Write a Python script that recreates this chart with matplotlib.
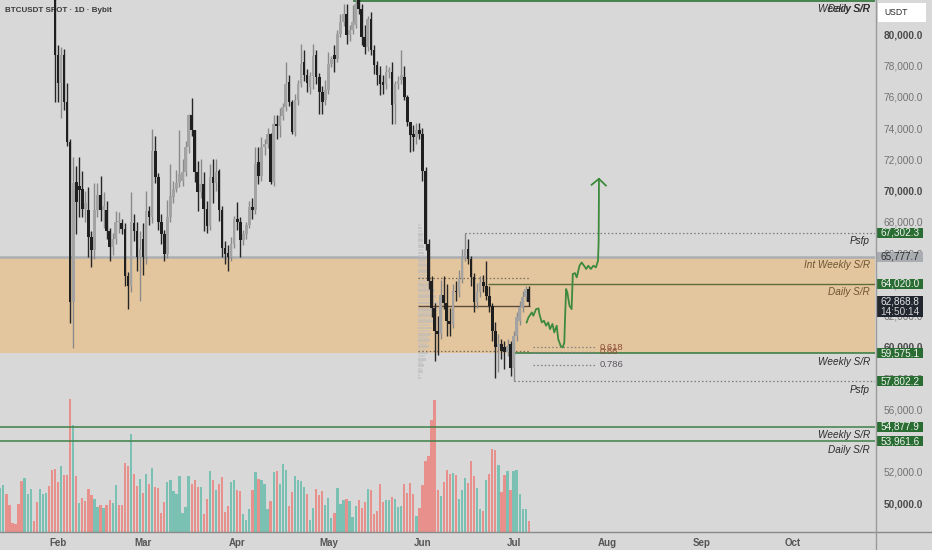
import numpy as np
import matplotlib
matplotlib.use("Agg")
import matplotlib.pyplot as plt
from matplotlib import transforms
from matplotlib.patches import Rectangle
from matplotlib.lines import Line2D

plt.rcParams['font.family'] = ['Liberation Sans', 'DejaVu Sans']

# x axis = days counted from 1 Feb
month_days = [0, 28, 59, 89, 120, 150, 181, 212, 242]
month_names = ["Feb", "Mar", "Apr", "May", "Jun", "Jul", "Aug", "Sep", "Oct"]

# daily candles (thousand USDT), first one is day -1
first_day = -1
opens = [82.90, 78.65, 76.88, 78.65, 75.66, 73.10, 62.84, 70.53, 70.26, 70.11, 68.83,
         68.78, 67.01, 66.22, 68.78, 69.74, 68.78, 68.78, 67.44, 66.37, 66.90,
         67.97, 67.90, 67.55, 64.55, 63.91, 67.90, 67.44, 65.72, 66.90, 65.72,
         68.72, 68.29, 72.56, 70.85, 67.97, 67.22, 65.94, 68.29, 69.57, 70.11,
         70.47, 70.60, 71.17, 72.78, 74.81, 73.85, 71.17, 69.89, 70.43, 68.83,
         67.76, 70.85, 70.47, 71.24, 68.76, 66.33, 66.00, 65.75, 66.60, 68.19,
         67.97, 66.84, 67.22, 67.82, 68.97, 68.76, 71.81, 70.96, 72.78, 72.99,
         73.60, 70.53, 74.28, 74.10, 74.74, 75.34, 76.94, 75.66, 73.74, 75.77,
         76.84, 78.22, 77.37, 76.60, 77.30, 78.65, 77.26, 76.30, 75.77, 76.41,
         78.12, 78.65, 78.44, 80.04, 80.79, 81.33, 79.94, 80.26, 80.58, 82.40,
         81.65, 79.83, 79.19, 81.00, 79.02, 78.01, 77.37, 76.94, 76.84, 77.58,
         77.58, 75.56, 76.84, 77.05, 77.26, 75.98, 74.38, 73.63, 73.42, 73.85,
         73.63, 71.28, 66.58, 64.23, 62.50, 61.03, 60.80, 63.30, 62.80, 61.67,
         61.47, 63.59, 63.48, 64.34, 65.72, 66.26, 65.62, 64.44, 62.84, 63.48,
         64.12, 63.91, 63.27, 62.63, 61.03, 59.96, 60.17, 59.96, 59.64, 60.17,
         58.67, 60.71, 61.67, 62.52, 63.16, 63.70]
highs = [83.40, 79.29, 79.19, 79.08, 76.88, 73.30, 72.12, 71.60, 72.13, 71.28, 70.00,
         70.21, 67.40, 70.51, 70.51, 70.90, 69.90, 69.30, 67.60, 67.30, 68.72,
         68.60, 68.20, 67.90, 64.80, 69.89, 68.50, 68.00, 67.44, 67.90, 70.00,
         69.00, 73.96, 73.46, 71.10, 68.50, 67.50, 69.40, 71.73, 70.60, 71.30,
         73.85, 72.00, 73.20, 74.90, 75.94, 73.90, 71.90, 72.00, 71.20, 69.30,
         71.71, 72.00, 72.00, 71.40, 69.00, 66.80, 66.50, 67.00, 68.40, 69.25,
         68.30, 67.50, 68.00, 69.36, 69.50, 72.78, 72.78, 73.42, 73.30, 74.00,
         73.70, 74.81, 74.81, 75.30, 75.60, 78.22, 77.37, 75.80, 76.20, 77.10,
         79.40, 78.97, 77.80, 77.60, 79.40, 79.00, 77.50, 76.70, 77.05, 78.87,
         78.60, 79.29, 80.30, 81.33, 81.97, 81.97, 80.60, 81.90, 82.50, 82.90,
         81.97, 80.60, 81.20, 81.40, 79.30, 78.30, 78.00, 77.40, 78.01, 77.90,
         78.20, 77.00, 77.30, 79.00, 78.00, 76.10, 74.40, 74.20, 74.30, 74.30,
         74.00, 71.50, 66.90, 64.50, 62.80, 62.00, 64.30, 64.50, 64.00, 62.50,
         64.00, 64.20, 64.90, 66.26, 67.302, 66.90, 65.80, 64.70, 64.10, 64.55,
         64.60, 65.51, 63.90, 62.80, 61.60, 60.80, 60.50, 60.40, 60.50, 60.40,
         61.00, 62.20, 62.90, 63.60, 63.91, 63.91]
lows = [75.66, 75.66, 74.62, 75.13, 72.88, 61.50, 59.94, 67.24, 68.29, 68.30, 68.00,
        65.73, 65.08, 65.64, 68.30, 68.08, 67.60, 66.90, 65.51, 65.90, 66.60,
        67.30, 67.20, 63.91, 62.44, 63.50, 66.80, 64.87, 62.95, 64.60, 65.30,
        67.80, 67.90, 70.50, 67.50, 66.60, 65.51, 65.70, 68.00, 69.20, 69.90,
        70.20, 70.30, 70.90, 72.40, 73.50, 70.53, 68.72, 69.50, 67.44, 67.30,
        67.50, 69.20, 70.00, 68.08, 65.72, 65.30, 64.87, 65.50, 66.30, 67.50,
        65.72, 66.50, 66.90, 67.60, 68.20, 68.50, 70.43, 70.60, 72.30, 72.70,
        70.43, 70.30, 73.30, 73.40, 74.50, 75.10, 75.40, 73.63, 73.50, 75.50,
        76.60, 77.00, 76.30, 76.20, 76.50, 76.80, 74.92, 74.92, 75.50, 76.20,
        77.90, 77.58, 78.20, 79.80, 80.50, 79.40, 79.60, 80.00, 80.40, 81.30,
        79.29, 78.76, 78.90, 78.65, 77.48, 76.73, 76.09, 76.20, 76.50, 77.20,
        74.28, 74.28, 76.50, 76.80, 75.80, 74.10, 72.46, 72.56, 73.00, 73.30,
        70.64, 66.20, 63.70, 61.90, 59.10, 59.50, 60.50, 62.40, 60.71, 60.71,
        61.20, 62.90, 63.20, 64.10, 65.50, 65.30, 63.90, 62.20, 62.50, 63.20,
        63.50, 63.00, 62.20, 60.38, 58.03, 58.40, 59.20, 58.60, 59.40, 58.14,
        57.802, 60.40, 61.40, 62.20, 62.90, 62.60]
closes = [78.65, 76.88, 78.65, 75.66, 73.10, 62.84, 70.51, 69.25, 70.05, 68.83, 69.20,
          67.01, 66.20, 68.78, 69.74, 68.78, 69.00, 67.44, 66.37, 66.90, 67.97,
          68.05, 67.55, 64.55, 63.91, 67.97, 67.44, 65.72, 66.28, 65.72, 68.72,
          68.29, 72.56, 70.85, 67.97, 67.22, 65.94, 68.29, 69.68, 70.11, 70.47,
          71.07, 71.20, 72.78, 74.81, 73.85, 71.17, 69.89, 70.43, 68.83, 67.76,
          70.85, 70.47, 71.17, 68.76, 66.33, 65.94, 65.75, 66.60, 68.19, 67.97,
          66.84, 67.22, 67.82, 68.93, 68.76, 71.71, 70.96, 72.78, 72.99, 73.60,
          70.53, 74.28, 74.10, 74.74, 75.34, 76.84, 75.66, 73.74, 75.77, 76.84,
          78.12, 77.37, 76.90, 77.30, 78.60, 77.26, 76.30, 75.66, 76.41, 78.12,
          78.44, 78.44, 80.04, 80.79, 81.33, 79.94, 80.26, 80.79, 81.97, 81.65,
          79.83, 79.19, 81.00, 79.02, 78.01, 77.37, 76.84, 76.73, 77.58, 77.70,
          75.45, 76.84, 77.00, 77.37, 75.98, 74.38, 73.53, 73.42, 73.85, 73.63,
          71.28, 66.58, 64.23, 62.50, 61.03, 60.80, 63.30, 62.80, 61.67, 61.47,
          63.59, 63.48, 64.34, 65.72, 66.26, 65.62, 64.44, 62.84, 63.48, 64.12,
          63.91, 63.27, 62.63, 61.03, 59.96, 60.17, 59.70, 59.64, 60.06, 58.67,
          60.71, 61.88, 62.52, 63.16, 63.70, 62.8688]

# volume pane, first bar is day -19; g = up (teal), r = down (red)
first_vol_day = -19
volume = [44.0, 47.3, 38.3, 26.7, 9.0, 8.3, 27.7, 50.7, 54.3, 38.3,
          42.7, 11.0, 29.7, 42.7, 38.3, 39.3, 46.3, 62.3, 63.3, 50.0,
          66.0, 56.7, 56.7, 132.7, 106.7, 56.3, 29.0, 34.3, 31.0, 43.3,
          36.7, 32.7, 25.0, 26.7, 24.0, 27.3, 31.7, 29.3, 47.3, 27.3,
          27.3, 69.3, 65.7, 97.7, 57.7, 46.3, 53.3, 39.0, 58.3, 47.7,
          64.3, 45.0, 44.0, 19.0, 29.7, 49.7, 51.7, 40.7, 38.3, 55.7,
          19.0, 25.0, 55.7, 48.3, 51.7, 45.0, 45.0, 18.3, 32.7, 61.0,
          51.7, 42.3, 48.3, 55.0, 20.0, 26.3, 50.0, 52.3, 41.7, 41.0,
          18.3, 11.7, 22.7, 41.7, 59.7, 52.7, 52.3, 48.3, 23.3, 31.0,
          60.3, 61.0, 47.7, 68.3, 62.3, 25.7, 39.7, 55.7, 52.3,
          51.0, 45.0, 37.7, 12.3, 23.7, 43.3, 37.3, 40.7, 26.7, 34.0,
          14.0, 19.0, 44.3, 28.3, 32.3, 33.3, 31.0, 15.0, 25.7, 31.7,
          24.0, 30.0, 43.3, 41.7, 18.3, 21.0, 48.3, 30.0, 31.7, 31.7,
          35.0, 33.3, 25.0, 25.7, 47.7, 39.3, 49.0, 37.7, 15.7, 24.0,
          46.7, 70.7, 75.7, 111.7, 131.7, 42.3, 35.7, 50.0, 62.3, 58.3,
          59.3, 57.3, 33.0, 41.7, 54.3, 49.3, 71.0, 55.7, 44.0, 23.3,
          21.0, 51.7, 57.7, 83.3, 81.7, 67.3, 40.0, 56.7, 61.0, 41.7,
          60.7, 62.3, 37.7, 23.3, 22.7, 11.0]
vol_dir = ("ggrrrrrrgg" "grrgggrrrr" "grrrgrgrrr" "rggrgrrggr" "rrrgrrgrgr"
           "grrrrggggg" "gggrrrgrrg" "rgrrrrggrr" "gggrgrgggr" "grgggrrgg"
           "ggrggrrrgg" "grgggrgggr" "rrgrrrrrgg" "rgggrrrrgr" "rrrrrrgrrr"
           "grgggrrrgg" "rgrrrgrrgr" "gggggr")

# volume profile of the June range (price bins in thousand USDT)
vp_price = [67.6, 67.2, 66.8, 66.4, 66.0, 65.6, 65.2, 64.8, 64.4, 64.0, 63.6, 63.2, 62.8,
            62.4, 62.0, 61.6, 61.2, 60.8, 60.4, 60.0, 59.6, 59.2, 58.8, 58.4, 58.0]
vp_size = [4, 5, 5, 6, 6, 8, 9, 11, 13, 15, 17, 18, 20,
           19, 17, 16, 14, 13, 12, 11, 10, 8, 6, 5, 3]
vp_start, vp_end = 118.5, 155.4
vp_high, vp_poc, vp_low = 64422, 62630, 59731

# key levels
band_low, band_high = 59575.1, 65777.7
top_sr = 82130
psfp_high, psfp_high_day = 67302.3, 134
daily_sr, daily_sr_day = 64020.0, 141.6
weekly_sr, weekly_sr_day = 59575.1, 150.5
psfp_low, psfp_low_day = 57802.2, 150
weekly_low = 54877.9
daily_low = 53961.6
last_price = 62868.8

# fib retracement
fib_labels = ["0.618", "0.66", "0.786"]
fib_prices = [59960, 59690, 58850]
fib_start, fib_end = 156.4, 176.8

# projected path (day, thousand USDT)
path_day = [154.3, 154.9, 156.0, 156.5, 157.4, 158.2, 158.5, 159.3, 160.0, 160.7, 161.4,
            162.0, 162.8, 163.4, 164.2, 164.7, 165.5, 166.2, 166.7, 166.9, 167.3, 167.7,
            168.4, 169.1, 169.5, 170.2, 170.8, 171.7, 172.4, 173.2, 173.9, 174.6, 175.4,
            176.3, 177.1, 177.8, 178.0, 178.1, 178.1]
path_price = [61.56, 61.88, 62.20, 61.99, 62.41, 62.46, 62.10, 61.56, 61.67, 61.35, 61.56,
              61.13, 61.46, 60.92, 61.35, 60.49, 60.06, 59.96, 60.28, 61.56, 63.70, 63.48,
              62.63, 62.41, 64.66, 64.72, 64.44, 65.19, 65.40, 65.19, 64.98, 65.19, 64.98,
              65.19, 65.08, 65.51, 66.69, 69.47, 70.75]
arrow_day = [175.7, 178.1, 180.4]
arrow_price = [70.37, 70.75, 70.32]

BG = '#d8d8d8'
GREEN = '#2a6d33'
LINE_GREEN = '#3f8048'
DOT = (0, (1.2, 1.8))

W, H = 932, 550
fig = plt.figure(figsize=(W / 100, H / 100), dpi=100)
fig.patch.set_facecolor(BG)
rect = [0, 18 / H, 875 / W, 532 / H]
xlim = (-19.1, 269.0)

# volume pane behind the price axes
axv = fig.add_axes(rect)
axv.axis('off')
vdays = np.arange(first_vol_day, first_vol_day + len(volume))
vcols = ['#7bc1b3' if k == 'g' else '#e8908c' for k in vol_dir]
axv.bar(vdays, volume, width=0.74, color=vcols, linewidth=0)
axv.set_xlim(*xlim)
axv.set_ylim(0, 532)

ax = fig.add_axes(rect)
ax.set_facecolor('none')
ax.set_xlim(*xlim)
ax.set_ylim(48147, 82195)
blend = transforms.blended_transform_factory(ax.transAxes, ax.transData)

# zone and levels
ax.axhspan(band_low, band_high, color='#e4c69e', zorder=0.5, lw=0)
ax.axhline(band_high, color='#abaeb2', lw=1.8, zorder=1)
ax.hlines([top_sr, top_sr + 30], 97, xlim[1], color=LINE_GREEN, lw=1.1, zorder=2)
ax.hlines(psfp_high, psfp_high_day, xlim[1], color='#7a7a7a', lw=0.9, linestyles=DOT, zorder=2)
ax.hlines(daily_sr, daily_sr_day, xlim[1], color='#5f6c3c', lw=1.0, zorder=2)
ax.hlines(weekly_sr, weekly_sr_day, xlim[1], color=LINE_GREEN, lw=1.2, zorder=2)
ax.hlines(psfp_low, psfp_low_day, xlim[1], color='#7a7a7a', lw=0.9, linestyles=DOT, zorder=2)
ax.axhline(weekly_low, color=LINE_GREEN, lw=1.1, zorder=2)
ax.axhline(daily_low, color=LINE_GREEN, lw=1.1, zorder=2)

# volume profile
vp_w = np.array(vp_size) / 3.037
ax.barh(np.array(vp_price) * 1000, vp_w, left=vp_start, height=170,
        color='#b9b9b9', alpha=0.6, lw=0, zorder=1.5)
ax.barh(np.array(vp_price) * 1000 + 200, vp_w * 0.85, left=vp_start, height=150,
        color='#c2c2c2', alpha=0.5, lw=0, zorder=1.5)
ax.hlines([vp_high, vp_low], vp_start, vp_end, color='#7a6a5a', lw=0.9, linestyles=DOT, zorder=2)
ax.hlines(vp_poc, vp_start, vp_end, color='#5b4a3c', lw=1.0, zorder=2)

# candles
o = np.array(opens) * 1000
h = np.array(highs) * 1000
l = np.array(lows) * 1000
c = np.array(closes) * 1000
days = np.arange(first_day, first_day + len(o))
up = c >= o
ax.vlines(days[up], l[up], h[up], color='#8a8a8a', lw=1.0, zorder=3)
ax.vlines(days[~up], l[~up], h[~up], color='#262626', lw=1.0, zorder=3)
body_cols = np.where(up, '#a3a3a3', '#1f1f1f')
ax.bar(days, np.maximum(np.abs(c - o), 90), bottom=np.minimum(o, c), width=0.86,
       color=body_cols, lw=0, zorder=4)

# fib
ax.hlines(fib_prices, fib_start, fib_end, color='#808080', lw=0.9, linestyles=DOT, zorder=2)
fib_cols = ['#8c4e3a', '#8c4e3a', '#5d5560']
for lab, p, col in zip(fib_labels, fib_prices, fib_cols):
    ax.text(fib_end + 1.6, p, lab, fontsize=6.8, color=col, va='center', zorder=5)

# projection
ax.plot(path_day, np.array(path_price) * 1000, color='#3d8a3d', lw=1.3, zorder=5,
        solid_joinstyle='round')
ax.plot(arrow_day, np.array(arrow_price) * 1000, color='#3d8a3d', lw=1.3, zorder=5)

# level labels
def level_label(txt, p, col='#2b2b2b'):
    ax.annotate(txt, xy=(0.9943, p), xycoords=blend, xytext=(0, -2.5),
                textcoords='offset points', ha='right', va='top', style='italic',
                fontsize=7.2, color=col, zorder=6)

level_label("Weekly S/R", top_sr)
level_label("Daily S/R", top_sr)
level_label("Psfp", psfp_high)
level_label("Int Weekly S/R", band_high, '#6d5533')
level_label("Daily S/R", daily_sr, '#6d5533')
level_label("Weekly S/R", weekly_sr)
level_label("Psfp", psfp_low)
level_label("Weekly S/R", weekly_low)
level_label("Daily S/R", daily_low)

# price scale boxes
px = (ax.get_ylim()[1] - ax.get_ylim()[0]) / 532.0
def price_box(p, fc, tc, top=5, bottom=5, txt=None):
    ax.add_patch(Rectangle((877 / 875, p - bottom * px), 46 / 875, (top + bottom) * px,
                           transform=blend, fc=fc, ec='none', clip_on=False, zorder=7))
    ax.text(900 / 875, p, txt if txt else f"{p:,.1f}", transform=blend, ha='center',
            va='center', fontsize=7.2, color=tc, clip_on=False, zorder=8)

for p in [psfp_high, daily_sr, weekly_sr, psfp_low, weekly_low, daily_low]:
    price_box(p, GREEN, '#f2f2f2')
price_box(band_high, '#a9acb1', '#2e2e2e')
price_box(last_price, '#22262e', '#e6e6e6', top=6, bottom=15)
ax.text(900 / 875, last_price - 10 * px, "14:50:14", transform=blend, ha='center',
        va='center', fontsize=7.2, color='#d0d0d0', clip_on=False, zorder=8)

# axes styling
ax.yaxis.tick_right()
yt = np.arange(50000, 80001, 2000)
ax.set_yticks(yt)
ax.set_yticklabels([f"{v:,.1f}" for v in yt])
ax.tick_params(axis='y', length=0, pad=6, labelsize=7.3, labelcolor='#727272')
for t, v in zip(ax.get_yticklabels(), yt):
    if v % 10000 == 0:
        t.set_color('#4a4a4a')
        t.set_fontweight('bold')
ax.set_xticks(month_days)
ax.set_xticklabels(month_names)
ax.tick_params(axis='x', length=0, pad=4, labelsize=7, labelcolor='#555555')
for t in ax.get_xticklabels():
    t.set_fontweight('bold')
for s in ax.spines.values():
    s.set_visible(False)

fig.add_artist(Line2D([0, 1], [18 / H, 18 / H], transform=fig.transFigure, color='#8a8a8a', lw=1))
fig.add_artist(Line2D([875.5 / W, 875.5 / W], [0, 1], transform=fig.transFigure, color='#9a9a9a', lw=1))

# title and currency box
ax.text(0.006, 0.981, "BTCUSDT SPOT · 1D · Bybit", transform=ax.transAxes, fontsize=5.8,
        fontweight='bold', color='#3a3a3a', va='center', zorder=1)
fig.add_artist(Rectangle((878 / W, 1 - 22 / H), 48 / W, 19 / H, transform=fig.transFigure,
                         fc='white', ec='none'))
fig.text(884 / W, 1 - 12.5 / H, "USDT", fontsize=6.2, color='#2a2a2a', va='center')

fig.savefig("out.png", dpi=100, facecolor=BG)
